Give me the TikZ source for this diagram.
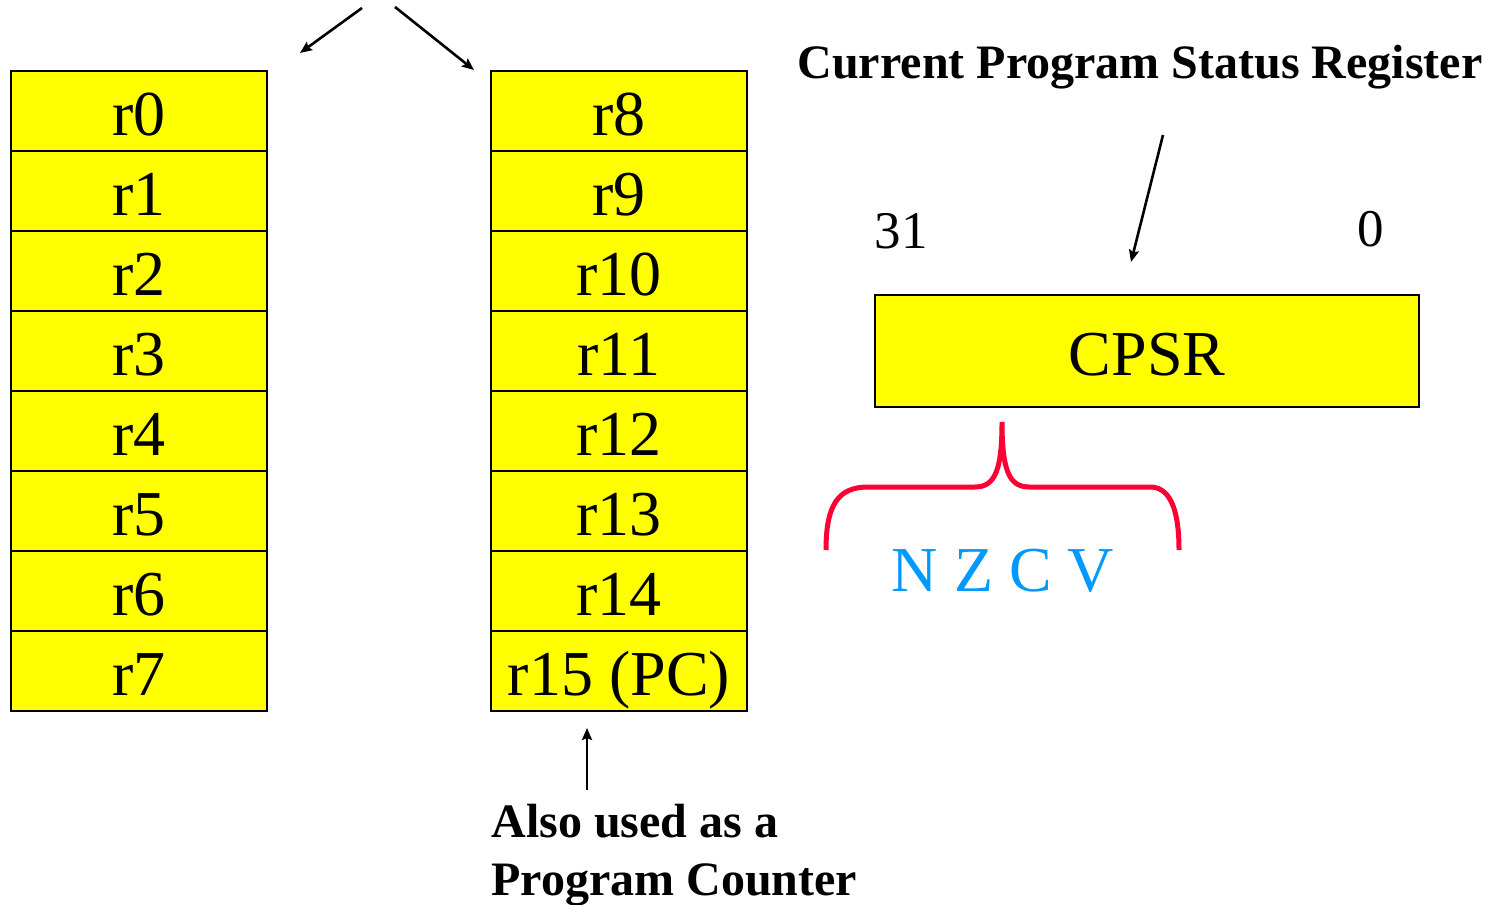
\documentclass[tikz,border=0pt]{standalone}
\usepackage{fontspec}
\setmainfont{Liberation Serif}
\usetikzlibrary{arrows.meta}
\definecolor{regyellow}{RGB}{255,255,0}
\definecolor{bracered}{RGB}{255,0,51}
\definecolor{flagblue}{RGB}{0,153,255}

\begin{document}
\begin{tikzpicture}[x=0.5pt,y=-0.5pt,
  reg/.style={draw,line width=1pt,fill=regyellow,minimum width=128pt,minimum height=40pt,inner sep=0pt,text height=24pt,text depth=0pt,font=\fontsize{32}{32}\selectfont},
  ptr/.style={line width=1.3pt,-{Stealth[length=6pt,width=5pt,inset=1pt]}},
  lbl/.style={inner sep=0pt}]
\useasboundingbox (0,0) rectangle (1497,904);

\def\lx{139}
\def\rx{619}
        % registers r0 - r7
        \node[reg] (r0) at (\lx,111){r0};
        \node[reg] (r1) at (\lx,191){r1};
        \node[reg] (r2) at (\lx,271){r2};
        \node[reg] (r3) at (\lx,351){r3};
        \node[reg] (r4) at (\lx,431){r4};
        \node[reg] (r5) at (\lx,511){r5};
        \node[reg] (r6) at (\lx,591){r6};
        \node[reg] (r7) at (\lx,671){r7};
        % registers r8 - r15
        \node[reg] (r8) at (\rx,111){r8};
        \node[reg] (r9) at (\rx,191){r9};
        \node[reg] (r10) at (\rx,271){r10};
        \node[reg] (r11) at (\rx,351){r11};
        \node[reg] (r12) at (\rx,431){r12};
        \node[reg] (r13) at (\rx,511){r13};
        \node[reg] (r14) at (\rx,591){r14};
        \node[reg] (r15) at (\rx,671){r15 (PC)};

        % split arrows at the top
        \coordinate (splitl) at (362,8);
        \coordinate (splitr) at (395,7);
        \coordinate (tol) at (300,53);
        \coordinate (tor) at (474,70);
        \draw[ptr] (splitl) -- (tol);
        \draw[ptr] (splitr) -- (tor);

        % program counter note
        \node[lbl,anchor=base west,align=left,font=\bfseries\fontsize{24}{29}\selectfont] (pcnote) at (491,895){Also used as a\\Program Counter};
        \coordinate (pcfrom) at (587,790);
        \coordinate (pcto) at (587,728);
        \draw[ptr] (pcfrom) -- (pcto);

        % status register
        \node[reg,minimum width=272pt,minimum height=56pt] (cpsr) at (1147,351){CPSR};
        \node[lbl,anchor=base,font=\bfseries\fontsize{24}{24}\selectfont] (title) at (1140,79){Current Program Status Register};
        \node[lbl,anchor=base,font=\fontsize{26.5}{26.5}\selectfont] (hi) at (901,248){31};
        \node[lbl,anchor=base,font=\fontsize{26.5}{26.5}\selectfont] (lo) at (1371,246){0};
        \coordinate (cfrom) at (1163,135);
        \coordinate (cto) at (1131,262);
        \draw[ptr] (cfrom) -- (cto);

        % flags brace
        \draw[bracered,line width=2.5pt] (826,550) .. controls (826,505) and (838,487) .. (868,487) -- (975,487) .. controls (995,487) and (1002,470) .. (1002,422) .. controls (1002,470) and (1009,487) .. (1029,487) -- (1150,487) .. controls (1168,487) and (1179,505) .. (1179,550);
        \node[lbl,anchor=base,text=flagblue,font=\fontsize{32}{32}\selectfont] (nzcv) at (1003,591){N Z C V};
\end{tikzpicture}
\end{document}
